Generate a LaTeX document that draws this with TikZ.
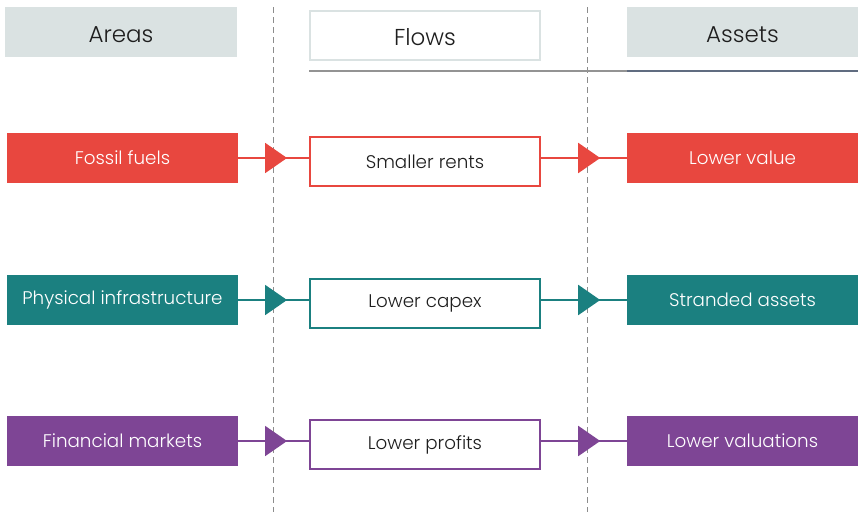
\documentclass[tikz,border=0pt]{standalone}
\usepackage{fontspec}
\setmainfont{Poppins Light}
\usetikzlibrary{decorations.markings,arrows.meta}
\definecolor{cred}{HTML}{E8473F}
\definecolor{cteal}{HTML}{1B8080}
\definecolor{cpurp}{HTML}{7E4595}
\definecolor{chead}{HTML}{DAE2E2}
\definecolor{cdash}{HTML}{8C8C8C}
\definecolor{ctxt}{HTML}{1E1E1E}
\begin{document}
\begin{tikzpicture}[x=1pt,y=-1pt,
  head/.style={minimum width=232pt,minimum height=50pt,inner sep=0pt,font=\fontsize{23}{26}\selectfont,text=ctxt,text height=20pt,text depth=0pt},
  fillbox/.style={fill=#1,minimum width=231pt,minimum height=50pt,inner sep=0pt,text=white,font=\fontsize{18.3}{21}\selectfont},
  midbox/.style={draw=#1,line width=2pt,fill=white,minimum width=230pt,minimum height=49pt,inner sep=0pt,text=ctxt,font=\fontsize{18.3}{21}\selectfont},
  conn/.style={draw=#1,line width=2pt,postaction={decorate},decoration={markings,mark=at position 0.69 with {\arrow[#1]{Triangle[length=22pt,width=30pt]}}}},
  divider/.style={cdash,line width=0.8pt,dash pattern=on 6pt off 4pt}
]
\useasboundingbox (0,0) rectangle (858,517);
% dividers
\coordinate (d1t) at (273,7);
\coordinate (d1b) at (273,512);
\coordinate (d2t) at (587,7);
\coordinate (d2b) at (587,512);
\draw[divider] (d1t) -- (d1b);
\draw[divider] (d2t) -- (d2b);
% headers
\node[head,fill=chead] (areas) at (121,32) {Areas};
\node[head,draw=chead,line width=2pt,fill=white,minimum width=230pt,minimum height=49pt] (flows) at (425,35.5) {Flows};
\node[head,fill=chead,minimum width=231pt] (assets) at (742.5,32) {Assets};
\coordinate (l1) at (309,71);
\coordinate (l2) at (627,71);
\coordinate (l3) at (858,71);
\draw[line width=1.2pt,color=gray!85] (l1) -- (l2);
\draw[line width=1.2pt,color={rgb,255:red,96;green,108;blue,128}] (l2) -- (l3);
% row 1
\node[fillbox=cred] (a1) at (122.5,158) {Fossil fuels};
\node[midbox=cred] (f1) at (425,161.5) {Smaller rents};
\node[fillbox=cred] (s1) at (742.5,158) {Lower value};
% row 2
\node[fillbox=cteal] (a2) at (122.5,300) {Physical infrastructure};
\node[midbox=cteal] (f2) at (425,303.5) {Lower capex};
\node[fillbox=cteal] (s2) at (742.5,300) {Stranded assets};
% row 3
\node[fillbox=cpurp] (a3) at (122.5,441) {Financial markets};
\node[midbox=cpurp] (f3) at (425,444.5) {Lower profits};
\node[fillbox=cpurp] (s3) at (742.5,441) {Lower valuations};
% connectors
\draw[conn=cred] (a1.east) -- (a1.east -| f1.west);
\draw[conn=cred] (a1.east -| f1.east) -- (s1.west);
\draw[conn=cteal] (a2.east) -- (a2.east -| f2.west);
\draw[conn=cteal] (a2.east -| f2.east) -- (s2.west);
\draw[conn=cpurp] (a3.east) -- (a3.east -| f3.west);
\draw[conn=cpurp] (a3.east -| f3.east) -- (s3.west);
\end{tikzpicture}
\end{document}
